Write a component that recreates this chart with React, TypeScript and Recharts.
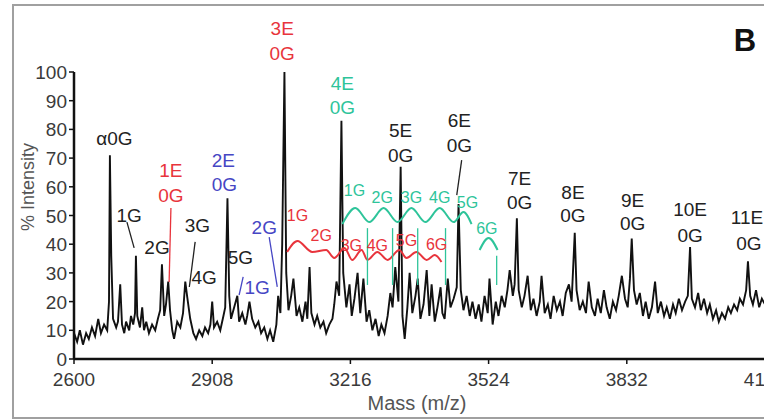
import React from 'react'
import {
  LineChart,
  Line,
  XAxis,
  YAxis,
  ReferenceDot,
  ReferenceLine,
} from 'recharts'

// mass (m/z), % intensity
const spectrum: [number, number][] = [
  [2600, 9], [2607, 6], [2613, 10], [2620, 5], [2627, 9], [2633, 7], [2640, 11], [2647, 8],
  [2654, 14], [2660, 9], [2667, 12], [2674, 10], [2678, 20], [2680, 71], [2683, 36], [2687, 14],
  [2694, 11], [2698, 13], [2703, 26], [2707, 12], [2712, 9], [2716, 13], [2723, 10], [2727, 15],
  [2732, 12], [2736, 16], [2738, 36], [2741, 15], [2747, 11], [2752, 18], [2756, 10], [2761, 13],
  [2767, 9], [2774, 12], [2781, 10], [2787, 14], [2792, 17], [2796, 33], [2801, 15], [2805, 19],
  [2810, 27], [2814, 17], [2819, 10], [2823, 7], [2830, 13], [2837, 11], [2843, 16], [2848, 27],
  [2852, 22], [2859, 14], [2866, 9], [2872, 7], [2879, 10], [2886, 8], [2892, 11], [2899, 9],
  [2904, 12], [2908, 20], [2912, 11], [2919, 13], [2926, 10], [2933, 15], [2937, 18], [2942, 56],
  [2946, 22], [2950, 14], [2957, 18], [2964, 22], [2968, 13], [2975, 16], [2982, 12], [2986, 15],
  [2991, 20], [2997, 14], [3004, 11], [3011, 13], [3017, 9], [3024, 11], [3031, 7], [3037, 10],
  [3044, 6], [3051, 12], [3055, 22], [3060, 16], [3064, 40], [3069, 100], [3073, 30], [3078, 17],
  [3084, 22], [3089, 28], [3096, 15], [3102, 18], [3109, 13], [3116, 20], [3120, 14], [3125, 32],
  [3129, 16], [3136, 12], [3142, 15], [3149, 11], [3156, 13], [3162, 9], [3169, 12], [3176, 14],
  [3180, 19], [3185, 27], [3191, 22], [3196, 83], [3200, 30], [3207, 18], [3214, 26], [3219, 15],
  [3225, 21], [3232, 30], [3238, 16], [3245, 28], [3252, 13], [3258, 17], [3265, 10], [3272, 14],
  [3279, 8], [3285, 12], [3292, 9], [3299, 15], [3305, 23], [3310, 18], [3316, 32], [3323, 20],
  [3328, 67], [3332, 15], [3337, 7], [3343, 18], [3348, 30], [3354, 16], [3361, 22], [3366, 28],
  [3372, 14], [3379, 19], [3386, 31], [3392, 15], [3397, 26], [3404, 13], [3410, 18], [3417, 25],
  [3421, 16], [3426, 14], [3433, 28], [3439, 18], [3446, 21], [3453, 25], [3457, 54], [3462, 24],
  [3468, 17], [3475, 22], [3482, 15], [3488, 20], [3495, 14], [3502, 19], [3508, 13], [3515, 22],
  [3522, 16], [3526, 28], [3533, 12], [3540, 20], [3546, 15], [3553, 22], [3560, 18], [3566, 24],
  [3571, 31], [3578, 22], [3582, 26], [3587, 49], [3591, 24], [3598, 18], [3604, 22], [3611, 29],
  [3618, 17], [3624, 21], [3631, 15], [3638, 20], [3642, 29], [3649, 16], [3656, 19], [3662, 14],
  [3669, 22], [3676, 17], [3683, 20], [3689, 15], [3696, 23], [3703, 26], [3709, 20], [3716, 44],
  [3720, 24], [3727, 17], [3734, 20], [3741, 16], [3747, 27], [3754, 18], [3761, 15], [3767, 21],
  [3774, 16], [3781, 24], [3787, 18], [3794, 14], [3801, 20], [3808, 17], [3814, 22], [3821, 29],
  [3828, 21], [3834, 18], [3839, 28], [3843, 42], [3848, 24], [3854, 19], [3861, 23], [3868, 15],
  [3874, 20], [3881, 14], [3888, 18], [3895, 27], [3901, 16], [3908, 20], [3915, 15], [3921, 18],
  [3928, 14], [3935, 19], [3941, 16], [3948, 21], [3955, 17], [3962, 20], [3968, 22], [3973, 39],
  [3977, 21], [3984, 18], [3991, 23], [3997, 17], [4004, 21], [4011, 16], [4017, 19], [4024, 14],
  [4031, 17], [4037, 13], [4044, 16], [4051, 14], [4058, 18], [4064, 16], [4071, 19], [4078, 17],
  [4084, 21], [4091, 19], [4098, 24], [4102, 34], [4107, 22], [4113, 19], [4120, 24], [4127, 18],
  [4133, 21], [4140, 19],
]

// wavy glycan ladders drawn over the peaks
const redArc: [number, number][] = [
  [3075, 37.3], [3098, 41.1], [3131, 37.3], [3162, 38], [3180, 35.2], [3203, 38.7], [3220, 34.5],
  [3241, 38], [3254, 34.5], [3276, 37.3], [3299, 34.5], [3325, 38], [3341, 35.2], [3363, 37.3],
  [3386, 34.5], [3404, 36.2], [3419, 33.8],
]
const tealArc: [number, number][] = [
  [3198, 47], [3227, 52.6], [3258, 47.7], [3290, 52.6], [3321, 47.7], [3352, 52.6], [3383, 47.7],
  [3415, 52.6], [3446, 47.7], [3468, 51.2], [3486, 47],
]
const tealArc2: [number, number][] = [[3504, 38], [3524, 42.2], [3544, 38]]

const xTicks = [2600, 2908, 3216, 3524, 3832, 4140]
const yTicks = [0, 10, 20, 30, 40, 50, 60, 70, 80, 90, 100]

const BLACK = '#222'
const RED = '#e8343c'
const BLUE = '#4646c4'
const TEAL = '#2ec49a'

type PeakLabel = { m: number; v: number; text: string; color: string; small?: boolean }

const peakLabels: PeakLabel[] = [
  { m: 2690, v: 77, text: 'α0G', color: BLACK },
  { m: 2723, v: 50.2, text: '1G', color: BLACK },
  { m: 2785, v: 39, text: '2G', color: BLACK },
  { m: 2875, v: 46.7, text: '3G', color: BLACK },
  { m: 2890, v: 28.6, text: '4G', color: BLACK },
  { m: 2971, v: 35.5, text: '5G', color: BLACK },
  { m: 2816, v: 65.9, text: '1E', color: RED },
  { m: 2816, v: 57.1, text: '0G', color: RED },
  { m: 2933, v: 69.3, text: '2E', color: BLUE },
  { m: 2935, v: 61, text: '0G', color: BLUE },
  { m: 3024, v: 46, text: '2G', color: BLUE },
  { m: 3008, v: 25.1, text: '1G', color: BLUE },
  { m: 3064, v: 115.3, text: '3E', color: RED },
  { m: 3064, v: 106.6, text: '0G', color: RED },
  { m: 3098, v: 50.2, text: '1G', color: RED, small: true },
  { m: 3151, v: 43.2, text: '2G', color: RED, small: true },
  { m: 3218, v: 39.7, text: '3G', color: RED, small: true },
  { m: 3276, v: 39.7, text: '4G', color: RED, small: true },
  { m: 3341, v: 41.5, text: '5G', color: RED, small: true },
  { m: 3408, v: 40.1, text: '6G', color: RED, small: true },
  { m: 3198, v: 96.2, text: '4E', color: TEAL },
  { m: 3198, v: 87.8, text: '0G', color: TEAL },
  { m: 3225, v: 58.9, text: '1G', color: TEAL, small: true },
  { m: 3287, v: 56.4, text: '2G', color: TEAL, small: true },
  { m: 3352, v: 56.4, text: '3G', color: TEAL, small: true },
  { m: 3415, v: 56.4, text: '4G', color: TEAL, small: true },
  { m: 3477, v: 54.7, text: '5G', color: TEAL, small: true },
  { m: 3520, v: 45.6, text: '6G', color: TEAL, small: true },
  { m: 3328, v: 79.8, text: '5E', color: BLACK },
  { m: 3328, v: 71.1, text: '0G', color: BLACK },
  { m: 3459, v: 83.3, text: '6E', color: BLACK },
  { m: 3459, v: 74.6, text: '0G', color: BLACK },
  { m: 3593, v: 63.1, text: '7E', color: BLACK },
  { m: 3593, v: 54.7, text: '0G', color: BLACK },
  { m: 3712, v: 58.2, text: '8E', color: BLACK },
  { m: 3712, v: 50.2, text: '0G', color: BLACK },
  { m: 3845, v: 55.4, text: '9E', color: BLACK },
  { m: 3845, v: 47.4, text: '0G', color: BLACK },
  { m: 3973, v: 52.3, text: '10E', color: BLACK },
  { m: 3973, v: 43.2, text: '0G', color: BLACK },
  { m: 4100, v: 49.5, text: '11E', color: BLACK },
  { m: 4104, v: 40.4, text: '0G', color: BLACK },
]

const leaders: { a: [number, number]; b: [number, number]; color: string }[] = [
  { a: [2718, 47.7], b: [2734, 38.7], color: BLACK },
  { a: [2816, 52.6], b: [2812, 26.8], color: RED },
  { a: [2870, 40.8], b: [2857, 25.1], color: BLACK },
  { a: [3035, 42.5], b: [3053, 25.1], color: BLUE },
  { a: [2977, 28.6], b: [2968, 22.3], color: BLUE },
  { a: [3464, 69.3], b: [3453, 57.1], color: BLACK },
  { a: [3254, 45.6], b: [3254, 25.8], color: TEAL },
  { a: [3310, 45.6], b: [3310, 25.8], color: TEAL },
  { a: [3366, 45.6], b: [3366, 25.8], color: TEAL },
  { a: [3428, 45.6], b: [3428, 25.8], color: TEAL },
  { a: [3542, 36], b: [3542, 25.8], color: TEAL },
]

const toRows = (pts: [number, number][]) => pts.map(([m, v]) => ({ m, v }))

const FONT = '"Liberation Sans", Arial, sans-serif'

function XTick({ x, y, payload }: any) {
  return (
    <text x={x} y={y} dy={20} textAnchor="middle" fontSize={19} fill="#3a3a3a" fontFamily={FONT}>
      {payload.value}
    </text>
  )
}

function YTick({ x, y, payload }: any) {
  return (
    <text x={x} y={y} dy={7} textAnchor="end" fontSize={19} fill="#3a3a3a" fontFamily={FONT}>
      {payload.value}
    </text>
  )
}

export default function App() {
  return (
    <div
      style={{
        position: 'fixed',
        left: 0,
        top: 0,
        width: 764,
        height: 420,
        overflow: 'hidden',
        background: '#fff',
        fontFamily: FONT,
      }}
    >
      <div
        style={{
          position: 'absolute',
          left: 12,
          top: 4,
          width: 800,
          height: 411,
          border: '2px solid #a0a0a0',
        }}
      />
      <div style={{ position: 'absolute', left: 0, top: 0 }}>
        <LineChart width={800} height={420} margin={{ top: 72, right: 35, bottom: 21, left: 14 }}>
          <XAxis
            type="number"
            dataKey="m"
            domain={[2600, 4140]}
            ticks={xTicks}
            interval={0}
            allowDataOverflow
            height={40}
            tick={<XTick />}
            tickSize={5}
            axisLine={{ stroke: '#111', strokeWidth: 2.5 }}
            tickLine={{ stroke: '#111', strokeWidth: 1.5 }}
          />
          <YAxis
            type="number"
            domain={[0, 100]}
            ticks={yTicks}
            interval={0}
            width={60}
            tick={<YTick />}
            tickSize={5}
            axisLine={{ stroke: '#111', strokeWidth: 2.5 }}
            tickLine={{ stroke: '#111', strokeWidth: 1.5 }}
          />
          <Line
            data={toRows(spectrum)}
            dataKey="v"
            type="linear"
            stroke="#111"
            strokeWidth={1.9}
            dot={false}
            isAnimationActive={false}
          />
          <Line
            data={toRows(redArc)}
            dataKey="v"
            type="monotone"
            stroke={RED}
            strokeWidth={2}
            dot={false}
            isAnimationActive={false}
          />
          <Line
            data={toRows(tealArc)}
            dataKey="v"
            type="monotone"
            stroke={TEAL}
            strokeWidth={2}
            dot={false}
            isAnimationActive={false}
          />
          <Line
            data={toRows(tealArc2)}
            dataKey="v"
            type="monotone"
            stroke={TEAL}
            strokeWidth={2}
            dot={false}
            isAnimationActive={false}
          />
          {leaders.map((l, i) => (
            <ReferenceLine
              key={'l' + i}
              segment={[
                { x: l.a[0], y: l.a[1] },
                { x: l.b[0], y: l.b[1] },
              ]}
              stroke={l.color}
              strokeWidth={1.3}
              ifOverflow="visible"
            />
          ))}
          {peakLabels.map((p, i) => (
            <ReferenceDot
              key={'p' + i}
              x={p.m}
              y={p.v}
              r={0}
              ifOverflow="visible"
              shape={(s: any) => (
                <text
                  x={s.cx}
                  y={s.cy}
                  dy={p.small ? 6 : 7}
                  textAnchor="middle"
                  fontSize={p.small ? 16 : 19}
                  fill={p.color}
                  fontFamily={FONT}
                >
                  {p.text}
                </text>
              )}
            />
          ))}
        </LineChart>
      </div>
      <div
        style={{
          position: 'absolute',
          left: 28,
          top: 187,
          transform: 'translate(-50%, -50%) rotate(-90deg)',
          fontSize: 18,
          color: '#555',
          whiteSpace: 'nowrap',
        }}
      >
        % Intensity
      </div>
      <div
        style={{
          position: 'absolute',
          left: 417,
          top: 403,
          transform: 'translate(-50%, -50%)',
          fontSize: 20,
          color: '#555',
          whiteSpace: 'nowrap',
        }}
      >
        Mass (m/z)
      </div>
      <div
        style={{
          position: 'absolute',
          left: 745,
          top: 41,
          transform: 'translate(-50%, -50%)',
          fontSize: 31,
          fontWeight: 'bold',
          color: '#111',
        }}
      >
        B
      </div>
    </div>
  )
}
